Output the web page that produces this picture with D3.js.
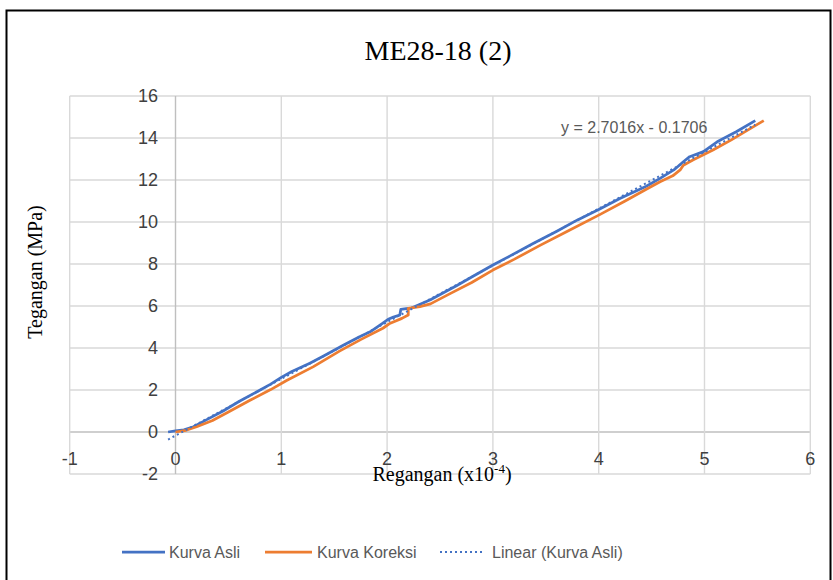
<!DOCTYPE html>
<html>
<head>
<meta charset="utf-8">
<script src="https://cdn.jsdelivr.net/npm/d3@7"></script>
<style>
  html, body { margin: 0; padding: 0; background: #fff; }
  svg { display: block; }
</style>
</head>
<body>
<svg id="chart" width="833" height="580"></svg>
<script>
// ---- data ----
const title = "ME28-18 (2)";
const xTicks = [-1, 0, 1, 2, 3, 4, 5, 6];
const yTicks = [-2, 0, 2, 4, 6, 8, 10, 12, 14, 16];

const asliX = [-0.07, 0.0, 0.08, 0.17, 0.3, 0.45, 0.6, 0.8, 0.9, 1.0, 1.1, 1.27, 1.4, 1.59, 1.74, 1.85, 1.96, 2.01, 2.06, 2.12, 2.13, 2.18, 2.23, 2.41, 2.55, 2.66, 2.8, 3.0, 3.15, 3.38, 3.6, 3.8, 4.01, 4.2, 4.45, 4.58, 4.71, 4.8, 4.86, 4.99, 5.12, 5.3, 5.48];
const asliY = [0, 0.05, 0.1, 0.25, 0.6, 1.0, 1.45, 2.0, 2.28, 2.6, 2.88, 3.27, 3.62, 4.14, 4.54, 4.8, 5.18, 5.37, 5.47, 5.57, 5.84, 5.87, 5.9, 6.3, 6.68, 6.98, 7.38, 7.95, 8.35, 8.98, 9.55, 10.1, 10.62, 11.12, 11.7, 12.08, 12.48, 12.87, 13.11, 13.35, 13.82, 14.3, 14.83];

const koreksiX = [0.0, 0.1, 0.2, 0.35, 0.5, 0.7, 0.9, 1.05, 1.3, 1.55, 1.75, 1.96, 2.03, 2.14, 2.2, 2.2, 2.31, 2.41, 2.6, 2.8, 3.0, 3.2, 3.45, 3.7, 4.01, 4.25, 4.45, 4.58, 4.7, 4.77, 4.8, 4.89, 5.08, 5.25, 5.4, 5.56];
const koreksiY = [0, 0.08, 0.25, 0.55, 0.95, 1.5, 2.02, 2.45, 3.1, 3.85, 4.4, 4.94, 5.18, 5.41, 5.57, 5.89, 5.97, 6.1, 6.6, 7.12, 7.71, 8.22, 8.9, 9.55, 10.35, 11.0, 11.56, 11.92, 12.2, 12.48, 12.7, 12.95, 13.43, 13.9, 14.35, 14.83];

const trendSlope = 2.7016;
const trendIntercept = -0.1706;
const trendLabel = "y = 2.7016x - 0.1706";
const legendLabels = ["Kurva Asli", "Kurva Koreksi", "Linear (Kurva Asli)"];

// ---- drawing ----
const svg = d3.select("#chart");
const x = d3.scaleLinear().domain([-1, 6]).range([69.7, 810.3]);
const y = d3.scaleLinear().domain([-2, 16]).range([474, 96]);

const colBlue = "#4472C4", colOrange = "#ED7D31";
const sans = "'Liberation Sans', Arial, sans-serif";
const serif = "'Liberation Serif', 'Times New Roman', serif";

// chart border
svg.append("rect").attr("x", 6.5).attr("y", 10.5).attr("width", 824).attr("height", 580)
  .attr("fill", "#fff").attr("stroke", "#000").attr("stroke-width", 2);

// title
svg.append("text").attr("x", 438).attr("y", 60).attr("text-anchor", "middle")
  .attr("font-family", serif).attr("font-size", 28).attr("fill", "#000").text(title);

// gridlines
const grid = svg.append("g");
grid.selectAll("line.h").data(yTicks).enter().append("line")
  .attr("x1", x(-1)).attr("x2", x(6))
  .attr("y1", d => y(d)).attr("y2", d => y(d))
  .attr("stroke", d => d === 0 ? "#BFBFBF" : "#D9D9D9").attr("stroke-width", 1.4);
grid.selectAll("line.v").data(xTicks).enter().append("line")
  .attr("y1", y(-2)).attr("y2", y(16))
  .attr("x1", d => x(d)).attr("x2", d => x(d))
  .attr("stroke", d => d === 0 ? "#BFBFBF" : "#D9D9D9").attr("stroke-width", 1.4);

// tick labels
svg.append("g").selectAll("text").data(yTicks).enter().append("text")
  .attr("x", 158).attr("y", d => y(d) + 6).attr("text-anchor", "end")
  .attr("font-family", sans).attr("font-size", 18).attr("fill", "#404040")
  .text(d => d);
svg.append("g").selectAll("text").data(xTicks).enter().append("text")
  .attr("x", d => x(d)).attr("y", 465).attr("text-anchor", "middle")
  .attr("font-family", sans).attr("font-size", 18).attr("fill", "#404040")
  .text(d => d);

// axis titles
svg.append("text").attr("transform", "translate(42,272) rotate(-90)")
  .attr("text-anchor", "middle").attr("font-family", serif).attr("font-size", 20)
  .attr("fill", "#000").text("Tegangan (MPa)");
const xt = svg.append("text").attr("x", 442).attr("y", 481).attr("text-anchor", "middle")
  .attr("font-family", serif).attr("font-size", 20).attr("fill", "#000");
xt.append("tspan").text("Regangan (x10");
xt.append("tspan").attr("dy", -8).attr("font-size", 13).text("-4");
xt.append("tspan").attr("dy", 8).text(")");

// series
const line = d3.line().x(d => x(d[0])).y(d => y(d[1]));
const asli = asliX.map((v, i) => [v, asliY[i]]);
const koreksi = koreksiX.map((v, i) => [v, koreksiY[i]]);
const xMin = d3.min(asliX), xMax = d3.max(asliX);
const trend = [[xMin, trendSlope * xMin + trendIntercept], [xMax, trendSlope * xMax + trendIntercept]];

svg.append("path").datum(asli).attr("d", line).attr("fill", "none")
  .attr("stroke", colBlue).attr("stroke-width", 2.75).attr("stroke-linejoin", "round");
svg.append("path").datum(koreksi).attr("d", line).attr("fill", "none")
  .attr("stroke", colOrange).attr("stroke-width", 2.75).attr("stroke-linejoin", "round");
svg.append("path").datum(trend).attr("d", line).attr("fill", "none")
  .attr("stroke", colBlue).attr("stroke-width", 2).attr("stroke-dasharray", "2,3");

// trend equation
svg.append("text").attr("x", 561).attr("y", 133)
  .attr("font-family", sans).attr("font-size", 16).attr("fill", "#595959").text(trendLabel);

// legend
const legend = [
  { x1: 122, x2: 165, tx: 169, color: colBlue, dash: null, w: 2.75 },
  { x1: 265, x2: 312, tx: 317, color: colOrange, dash: null, w: 2.75 },
  { x1: 440, x2: 485, tx: 492, color: colBlue, dash: "2,3", w: 2 }
];
const lg = svg.append("g");
legend.forEach((l, i) => {
  lg.append("line").attr("x1", l.x1).attr("x2", l.x2).attr("y1", 552).attr("y2", 552)
    .attr("stroke", l.color).attr("stroke-width", l.w).attr("stroke-dasharray", l.dash);
  lg.append("text").attr("x", l.tx).attr("y", 558)
    .attr("font-family", sans).attr("font-size", 16).attr("fill", "#595959").text(legendLabels[i]);
});
</script>
</body>
</html>
